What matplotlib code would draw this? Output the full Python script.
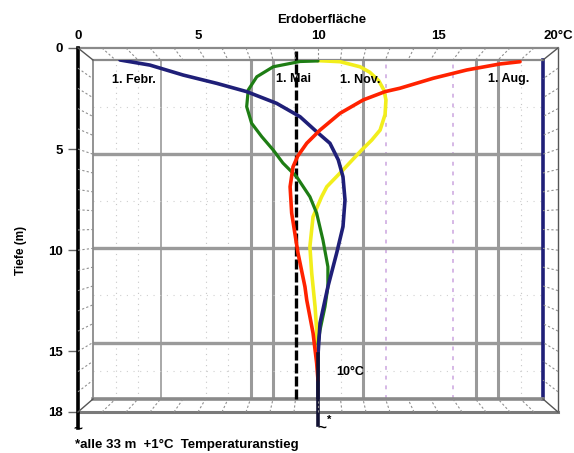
import matplotlib
matplotlib.use('Agg')
import matplotlib.pyplot as plt
from matplotlib.lines import Line2D

plt.rcParams['font.family'] = ['Liberation Sans', 'DejaVu Sans']
plt.rcParams['font.weight'] = 'bold'

# temperature (°C) vs depth (m) (back-wall scale)
febr_t = [1.2, 2.53, 4.01, 5.5, 6.83, 8.16, 9.2, 9.94, 10.53, 10.9, 11.11, 11.2, 11.11, 10.83, 10.44, 10.09, 10.0, 10.0]
febr_d = [0.0, 0.27, 0.8, 1.24, 1.68, 2.3, 3.01, 3.81, 4.42, 5.3, 6.2, 7.43, 8.85, 10.25, 12.04, 13.97, 15.67, 18.0]

mai_t = [10.0, 9.2, 8.01, 7.28, 6.9, 6.83, 7.05, 7.5, 8.01, 8.44, 9.05, 9.64, 9.94, 10.22, 10.44, 10.44, 10.31, 10.09, 10.0]
mai_d = [0.05, 0.08, 0.36, 0.89, 1.59, 2.48, 3.36, 4.07, 4.78, 5.47, 6.2, 7.26, 8.13, 9.56, 10.98, 12.04, 13.1, 14.34, 15.1]

nov_t = [9.96, 10.98, 11.87, 12.3, 12.7, 12.93, 13.02, 12.98, 12.76, 12.39, 11.94, 11.11, 10.39, 10.16, 9.78, 9.64, 9.72, 9.87, 9.94, 10.0]
nov_d = [0.03, 0.09, 0.36, 0.65, 1.1, 1.6, 2.12, 2.9, 3.72, 4.25, 4.78, 5.84, 6.73, 7.26, 8.32, 9.91, 11.31, 13.1, 14.34, 16.8]

aug_t = [18.98, 18.09, 16.61, 15.12, 13.64, 12.98, 12.01, 10.98, 10.09, 9.5, 9.1, 8.89, 8.76, 8.83, 9.11, 9.42, 9.5, 9.78, 9.94, 10.0]
aug_d = [0.09, 0.21, 0.53, 0.97, 1.5, 1.68, 2.12, 2.83, 3.72, 4.42, 5.1, 5.67, 6.73, 8.13, 10.25, 12.04, 12.75, 14.5, 16.09, 17.0]

mean_temp = 9.0
x_ticks = [0, 5, 10, 15, 20]
x_labels = ['0', '5', '10', '15', '20°C']
y_ticks = [0, 5, 10, 15, 18]

NAVY = '#1f1f78'
GREEN = '#1e7d14'
YELLOW = '#f2ee1c'
RED = '#ff2200'
GRID = '#9a9a9a'

W, H = 574, 453
fig = plt.figure(figsize=(W / 100, H / 100), dpi=100)


def box(l, t, r, b):
    return [l / W, 1 - b / H, (r - l) / W, (b - t) / H]


# outer (front) frame carries the scales
outer = fig.add_axes(box(78, 48, 558, 412))
outer.set_xlim(0, 20)
outer.set_ylim(18, 0)
outer.set_facecolor('none')
outer.xaxis.tick_top()
outer.set_xticks(x_ticks)
outer.set_xticklabels(x_labels, fontsize=9.5, fontweight='bold')
outer.set_yticks(y_ticks)
outer.set_yticklabels([str(v) for v in y_ticks], fontsize=9.5, fontweight='bold')
outer.tick_params(axis='x', length=0, pad=4)
outer.tick_params(axis='y', length=7, width=1, color='#666666', pad=4)
for side, c, lw in [('top', '#8a8a8a', 1.6), ('right', '#555555', 1.0),
                    ('bottom', '#7a7a7a', 2.2)]:
    outer.spines[side].set_color(c)
    outer.spines[side].set_linewidth(lw)
outer.spines['left'].set_visible(False)
outer.plot([0, 0], [0, 18.8], color='black', lw=2.6, clip_on=False, zorder=5)
outer.text(0, 18.85, '~', ha='center', va='center', fontsize=11, fontweight='bold')

# inner (back) wall with the curves
inner = fig.add_axes(box(93, 60, 543, 399))
inner.set_xlim(0, 20)
inner.set_ylim(18, 0)
inner.set_facecolor('none')
inner.set_xticks([])
inner.set_yticks([])
for side, c, lw in [('top', '#8a8a8a', 1.6), ('left', '#8a8a8a', 1.3),
                    ('right', NAVY, 2.6), ('bottom', '#8a8a8a', 2.6)]:
    inner.spines[side].set_color(c)
    inner.spines[side].set_linewidth(lw)

for t in [7, 8, 12, 17, 18]:
    inner.axvline(t, color=GRID, lw=2.2, zorder=1)
inner.axvline(3, color=GRID, lw=1.2, zorder=1)
for t in [1, 2, 5, 6, 11, 19]:
    inner.axvline(t, color='#c8c8c8', lw=0.8, ls=(0, (1, 4)), zorder=1)
for t in [13, 16]:
    inner.axvline(t, color='#d6b8e6', lw=1.4, ls=(0, (2, 3)), zorder=1)
for d in [5, 10, 15]:
    inner.axhline(d, color=GRID, lw=2.4, zorder=1)
for d in [2.5, 7.5, 12.5, 16.5]:
    inner.axhline(d, color='#d0d0d0', lw=0.8, ls=(0, (1, 5)), zorder=1)

inner.plot([mean_temp, mean_temp], [-0.5, 18], color='black', lw=2.4,
           dashes=(3.0, 0.9), clip_on=False, zorder=3)

inner.plot(nov_t, nov_d, color=YELLOW, lw=2.6, solid_capstyle='round',
           solid_joinstyle='round', zorder=4)
inner.plot(mai_t, mai_d, color=GREEN, lw=2.3, solid_capstyle='round',
           solid_joinstyle='round', zorder=4)
inner.plot(febr_t, febr_d, color=NAVY, lw=2.6, solid_capstyle='round',
           solid_joinstyle='round', zorder=5)
inner.plot(aug_t, aug_d, color=RED, lw=2.6, solid_capstyle='round',
           solid_joinstyle='round', zorder=5)
inner.plot([10, 10], [15.6, 19.4], color='#111133', lw=2.6, clip_on=False, zorder=6)

lab = dict(fontsize=9, fontweight='bold', ha='center', va='center', zorder=7)
inner.text(1.82, 1.06, '1. Febr.', **lab)
inner.text(8.93, 1.0, '1. Mai', **lab)
inner.text(11.87, 1.06, '1. Nov.', **lab)
inner.text(18.49, 1.0, '1. Aug.', **lab)
inner.text(11.42, 16.57, '10°C', **lab)
inner.text(10.18, 19.5, '~', ha='center', va='center', fontsize=11,
           fontweight='bold', clip_on=False)
inner.text(10.5, 19.1, '*', ha='center', va='center', fontsize=8,
           fontweight='bold', clip_on=False)

# perspective lines between the front and back frames
to_fig = fig.transFigure.inverted()


def link(p_out, p_in, **kw):
    a = to_fig.transform(outer.transData.transform(p_out))
    b = to_fig.transform(inner.transData.transform(p_in))
    fig.add_artist(Line2D([a[0], b[0]], [a[1], b[1]], **kw))


hatch = dict(color='#8f8f8f', lw=0.8, ls=(0, (2, 2)))
for t in range(1, 20):
    link((t, 0), (t, 0), **hatch)
    link((t, 18), (t, 18), **hatch)
for d in range(1, 18):
    link((0, d), (0, d), **hatch)
    link((20, d), (20, d), **hatch)
corner = dict(color='#555555', lw=1.0)
for c in [(0, 0), (20, 0), (0, 18), (20, 18)]:
    link(c, c, **corner)

fig.text(322 / W, 1 - 20 / H, 'Erdoberfläche', ha='center', va='center',
         fontsize=9.5, fontweight='bold')
fig.text(21 / W, 1 - 250 / H, 'Tiefe (m)', rotation=90, ha='center', va='center',
         fontsize=8.5, fontweight='bold')
fig.text(75 / W, 1 - 445 / H, '*alle 33 m  +1°C  Temperaturanstieg', ha='left',
         va='center', fontsize=9.5, fontweight='bold')

fig.savefig('out.png', dpi=100)
